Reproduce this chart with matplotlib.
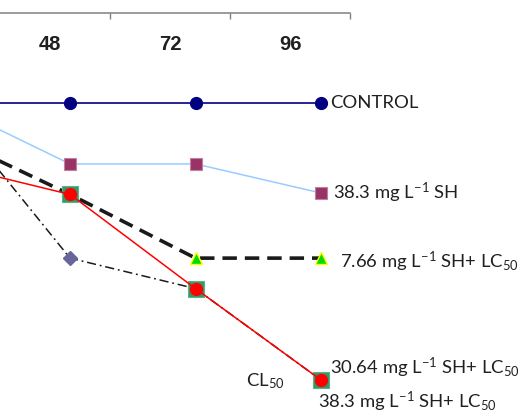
"""
Survival over time for the SH / LC50 exposure groups (cropped view, 48-96 h).
"""

import matplotlib
matplotlib.use("Agg")
import matplotlib.pyplot as plt

plt.rcParams["font.family"] = ["Lato", "DejaVu Sans"]
plt.rcParams["mathtext.fontset"] = "custom"
plt.rcParams["mathtext.rm"] = "Lato"
plt.rcParams["mathtext.it"] = "Lato"
plt.rcParams["mathtext.bf"] = "Lato:bold"

# time points (category index on the axis) and hour labels
time_idx = [1, 2, 3, 4]
hour_labels = ["48", "72", "96"]
hour_label_idx = [2, 3, 4]

# survival (%)
control = [100, 100, 100, 100]
sh_38 = [100, 78, 78, 67.5]
sh_766_lc50 = [88.5, 67, 44, 44]
lc50 = [100, 44, 33, 0]
sh_3064_lc50 = [78, 67, 33, 0]
sh_383_lc50 = [78, 67, 33, 0]

W, H = 521, 417
fig = plt.figure(figsize=(W / 100, H / 100), dpi=100)

# main plotting area spans the full crop
ax = fig.add_axes([0, 0, 1, 1])
px_per_unit_x = 125.5
x0_px = 70  # pixel of index 2
ax.set_xlim(2 - x0_px / px_per_unit_x, 2 + (W - x0_px) / px_per_unit_x)
k = 2.77  # px per percent
ax.set_ylim((380 - H) / k, 380 / k)
ax.axis("off")

ax.plot(time_idx, control, color="#000080", lw=1.2, marker="o", ms=8.5,
        mfc="#000080", mec="#000080", zorder=3)
ax.plot(time_idx, sh_38, color="#99CCFF", lw=1.1, marker="s", ms=8.5,
        mfc="#993366", mec="#C080A0", mew=0.8, zorder=3)
ax.plot(time_idx, sh_766_lc50, color="#1a1a1a", lw=2.6, ls=(0, (4.0, 2.2)),
        marker="^", ms=9, mfc="#00DD00", mec="#FFFF00", mew=1.0, zorder=3)
ax.plot(time_idx, lc50, color="#1a1a1a", lw=1.1, ls=(0, (6, 2.5, 1.2, 2.5)),
        marker="D", ms=7, mfc="#666699", mec="#666699", zorder=3)
ax.plot(time_idx, sh_383_lc50, color="none", marker="s", ms=11.5,
        mfc="#339966", mec="#5FB08A", mew=0.8, zorder=4)
ax.plot(time_idx, sh_3064_lc50, color="#FF0000", lw=1.1, marker="o",
        ms=8.5, mfc="#FF0000", mec="#FF0000", zorder=5)

# series labels
fs = 13.3
tc = "#202020"
ax.text(4 + 0.07, control[-1], "CONTROL", fontsize=fs, va="center",
        ha="left", color=tc)
ax.text(4 + 0.095, sh_38[-1], "38.3 mg L$^{-1}$ SH", fontsize=fs,
        va="center", ha="left", color=tc)
ax.text(4 + 0.15, sh_766_lc50[-1] - 1.5, "7.66 mg L$^{-1}$ SH+ LC$_{50}$",
        fontsize=fs, va="center", ha="left", color=tc)
ax.text(4 + 0.07, sh_3064_lc50[-1] + 4.5, "30.64 mg L$^{-1}$ SH+ LC$_{50}$",
        fontsize=fs, va="center", ha="left", color=tc)
ax.text(4 - 0.025, sh_383_lc50[-1] - 8, "38.3 mg L$^{-1}$ SH+ LC$_{50}$",
        fontsize=fs, va="center", ha="left", color=tc)
ax.text(4 - 0.6, lc50[-1] - 0.5, "CL$_{50}$", fontsize=fs, va="center",
        ha="left", color=tc)

# top category axis (line with ticks between categories)
axis_y = 13
left_px, right_px = 350 - 5 * 120, 350
ax2 = fig.add_axes([left_px / W, 1 - axis_y / H, (right_px - left_px) / W,
                    axis_y / H])
ax2.set_xlim(-0.5, 4.5)
ax2.set_ylim(0, 1)
ax2.patch.set_visible(False)
for side in ["top", "left", "right"]:
    ax2.spines[side].set_visible(False)
ax2.spines["bottom"].set_color("#808080")
ax2.spines["bottom"].set_linewidth(1.1)
ax2.set_yticks([])
ax2.set_xticks(hour_label_idx)
ax2.set_xticklabels(hour_labels, fontsize=14.5, fontweight="bold",
                    family="Liberation Sans", color=tc)
ax2.tick_params(axis="x", which="major", length=0, pad=15.5)
ax2.set_xticks([0.5, 1.5, 2.5, 3.5, 4.5], minor=True)
ax2.tick_params(axis="x", which="minor", length=4, width=1.0,
                color="#808080", direction="out")

fig.savefig("out.png", dpi=100)
